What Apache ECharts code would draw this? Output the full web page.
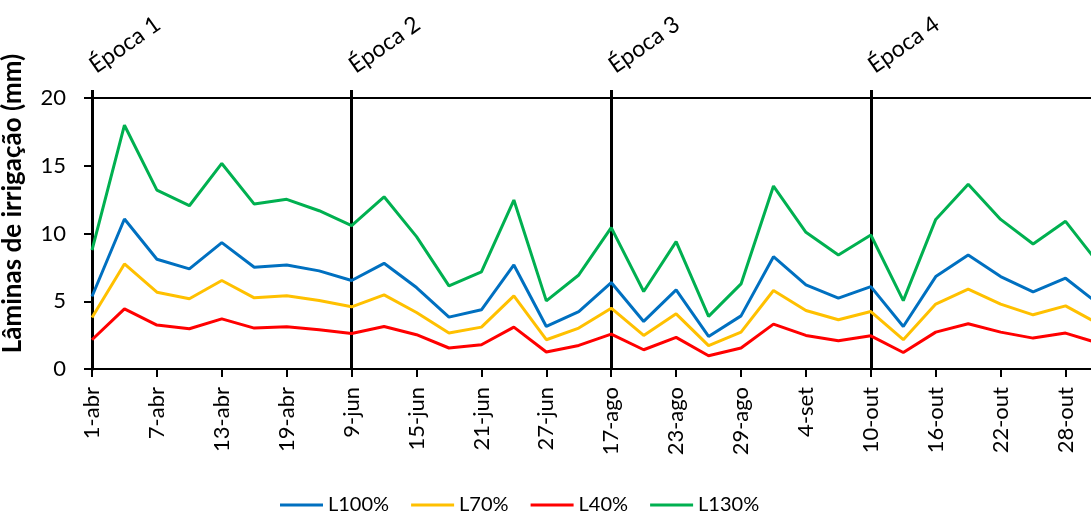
<!DOCTYPE html>
<html>
<head>
<meta charset="utf-8">
<script src="https://cdn.jsdelivr.net/npm/echarts@6/dist/echarts.min.js"></script>
<style>
  html, body { margin: 0; padding: 0; background: #fff; }
  #chart01 { width: 1091px; height: 513px; }
</style>
</head>
<body>
<div id="chart01"></div>
<script>
var datas = ['1-abr','4-abr','7-abr','10-abr','13-abr','16-abr','19-abr','22-abr',
             '9-jun','12-jun','15-jun','18-jun','21-jun','24-jun','27-jun','30-jun',
             '17-ago','20-ago','23-ago','26-ago','29-ago','1-set','4-set','7-set',
             '10-out','13-out','16-out','19-out','22-out','25-out','28-out','31-out'];
var epocas = ['Época 1', 'Época 2', 'Época 3', 'Época 4'];
var inicioEpoca = [0, 8, 16, 24];
var yTicks = [0, 5, 10, 15, 20];

var L100 = [5.35, 11.07, 8.1, 7.39, 9.33, 7.51, 7.68, 7.24, 6.53, 7.8, 6.01, 3.83, 4.37, 7.68, 3.14, 4.24,
            6.38, 3.51, 5.84, 2.4, 3.92, 8.29, 6.21, 5.23, 6.08, 3.14, 6.82, 8.42, 6.82, 5.69, 6.7, 4.83];
var L70 = [3.8, 7.75, 5.67, 5.18, 6.53, 5.25, 5.4, 5.05, 4.59, 5.47, 4.17, 2.65, 3.09, 5.4, 2.16, 3.02,
           4.49, 2.48, 4.07, 1.72, 2.72, 5.79, 4.32, 3.63, 4.24, 2.16, 4.79, 5.89, 4.79, 4.0, 4.66, 3.35];
var L40 = [2.16, 4.44, 3.24, 2.97, 3.7, 3.02, 3.11, 2.89, 2.62, 3.14, 2.53, 1.55, 1.79, 3.09, 1.25, 1.74,
           2.58, 1.42, 2.33, 0.98, 1.55, 3.31, 2.48, 2.08, 2.45, 1.22, 2.72, 3.34, 2.72, 2.28, 2.65, 1.92];
var L130 = [8.78, 17.99, 13.2, 12.05, 15.17, 12.17, 12.52, 11.68, 10.58, 12.71, 9.77, 6.13, 7.16, 12.47, 5.03, 6.94,
            10.43, 5.72, 9.4, 3.88, 6.28, 13.5, 10.09, 8.42, 9.89, 5.05, 11.04, 13.64, 11.04, 9.23, 10.9, 7.83];

// top axis labels: epoch name at the start of each epoch, blank elsewhere
var topLabels = datas.map(function (d, i) {
    var k = inicioEpoca.indexOf(i);
    return k >= 0 ? epocas[k] : '';
});
function isEpoca(i) { return inicioEpoca.indexOf(i) >= 0; }

var fonte = 'Lato, "DejaVu Sans", sans-serif';
var myChart = echarts.init(document.getElementById('chart01'));
var option = {
    animation: false,
    textStyle: { fontFamily: fonte, color: '#000' },
    color: ['#0070C0', '#FFC000', '#FF0000', '#00B050'],
    grid: { left: 92, top: 98, right: -7, bottom: 144, outerBoundsMode: 'none', containLabel: false },
    legend: {
        data: ['L100%', 'L70%', 'L40%', 'L130%'],
        icon: 'rect',
        left: 275,
        top: 490,
        itemWidth: 43,
        itemHeight: 3,
        itemGap: 22,
        textStyle: { fontSize: 20, color: '#000', fontFamily: fonte }
    },
    xAxis: [
        {
            type: 'category',
            position: 'bottom',
            boundaryGap: false,
            data: datas,
            axisLine: { lineStyle: { color: '#000', width: 2 } },
            axisTick: { interval: 1, length: 8, lineStyle: { color: '#000', width: 2 } },
            axisLabel: { interval: 1, rotate: 90, fontSize: 22, margin: 18, color: '#000' },
            splitLine: { show: false }
        },
        {
            type: 'category',
            position: 'top',
            boundaryGap: false,
            data: topLabels,
            axisLine: { lineStyle: { color: '#000', width: 2 } },
            axisTick: {
                interval: function (i) { return isEpoca(i); },
                length: 8,
                lineStyle: { color: '#000', width: 3 }
            },
            axisLabel: { interval: 0, rotate: -35, fontSize: 23, margin: 30, color: '#000' },
            splitLine: {
                show: true,
                interval: function (i) { return isEpoca(i); },
                lineStyle: { color: '#000', width: 3 }
            }
        }
    ],
    yAxis: {
        type: 'value',
        min: yTicks[0],
        max: yTicks[yTicks.length - 1],
        interval: 5,
        name: 'Lâminas de irrigação (mm)',
        nameLocation: 'middle',
        nameGap: 66,
        nameTextStyle: { fontSize: 26, fontWeight: 'bold', color: '#000', padding: [0, 0, 0, 60] },
        axisLine: { show: true, lineStyle: { color: '#000', width: 3 } },
        axisTick: { show: true, length: 8, lineStyle: { color: '#000', width: 2 } },
        axisLabel: { fontSize: 22, margin: 26, color: '#000' },
        splitLine: { show: false }
    },
    series: [
        { name: 'L100%', type: 'line', symbol: 'none', data: L100, lineStyle: { width: 3 } },
        { name: 'L70%', type: 'line', symbol: 'none', data: L70, lineStyle: { width: 3 } },
        { name: 'L40%', type: 'line', symbol: 'none', data: L40, lineStyle: { width: 3 } },
        { name: 'L130%', type: 'line', symbol: 'none', data: L130, lineStyle: { width: 3 } }
    ]
};
if (option && typeof option === "object") {
    myChart.setOption(option, true);
}
</script>
</body>
</html>
